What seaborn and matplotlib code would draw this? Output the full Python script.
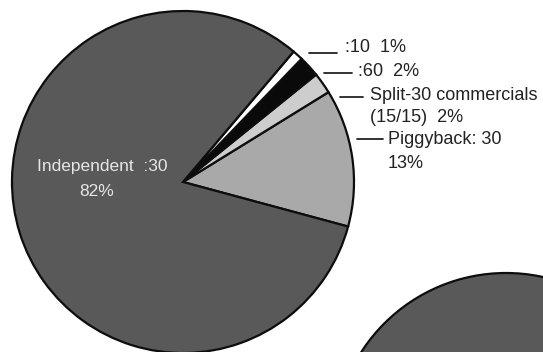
import matplotlib
matplotlib.use("Agg")
import matplotlib.pyplot as plt
import seaborn as sns

# Share of commercial units by type
labels = ["Piggyback: 30", "Split-30 commercials (15/15)", ":60", ":10", "Independent :30"]
shares = [13, 2, 2, 1, 82]
slice_colors = ["#a9a9a9", "#cdcdcd", "#0a0a0a", "#ffffff", "#595959"]

# Second chart (only its upper-left part falls inside the frame)
second_shares = [100]
second_colors = ["#595959"]

sns.set_theme(style="white")
plt.rcParams["font.family"] = ["Liberation Sans", "DejaVu Sans"]

W, H = 543, 352
fig = plt.figure(figsize=(W / 100, H / 100), dpi=100)
ax = fig.add_axes([0, 0, 1, 1])

def py(y):
    # image-style y (from top) to axes y
    return H - y

wedge_style = dict(edgecolor="#0d0d0d", linewidth=1.6)
palette = sns.color_palette(slice_colors)

ax.pie(shares, colors=palette, startangle=-15.1, counterclock=True,
       center=(183, py(182)), radius=171, wedgeprops=wedge_style)
ax.pie(second_shares, colors=sns.color_palette(second_colors), startangle=90,
       center=(506, py(445)), radius=172, wedgeprops=wedge_style)

ax.set_xlim(0, W)
ax.set_ylim(0, H)
ax.set_aspect("equal")
ax.axis("off")

txt = "#222222"
fs = 13
lw = 1.3

# leader lines and labels for the small slices
ax.plot([309, 337], [py(53), py(53)], color=txt, lw=lw)
ax.text(345, py(48), ":10  1%", fontsize=fs, color=txt, ha="left", va="center")

ax.plot([324, 352], [py(73), py(73)], color=txt, lw=lw)
ax.text(358, py(72), ":60  2%", fontsize=fs, color=txt, ha="left", va="center")

ax.plot([340, 363], [py(97), py(97)], color=txt, lw=lw)
ax.text(370, py(96), "Split-30 commercials", fontsize=fs, color=txt, ha="left", va="center")
ax.text(370, py(117), "(15/15)  2%", fontsize=fs, color=txt, ha="left", va="center")

ax.plot([357, 383], [py(139), py(139)], color=txt, lw=lw)
ax.text(388, py(140), "Piggyback: 30", fontsize=fs, color=txt, ha="left", va="center")
ax.text(388, py(163), "13%", fontsize=fs, color=txt, ha="left", va="center")

# label inside the large slice
ax.text(102, py(166), "Independent  :30", fontsize=12.5, color="#e6e6e6", ha="center", va="center")
ax.text(97, py(191), "82%", fontsize=12.5, color="#e6e6e6", ha="center", va="center")

fig.savefig("out.png", dpi=100, facecolor="white")
